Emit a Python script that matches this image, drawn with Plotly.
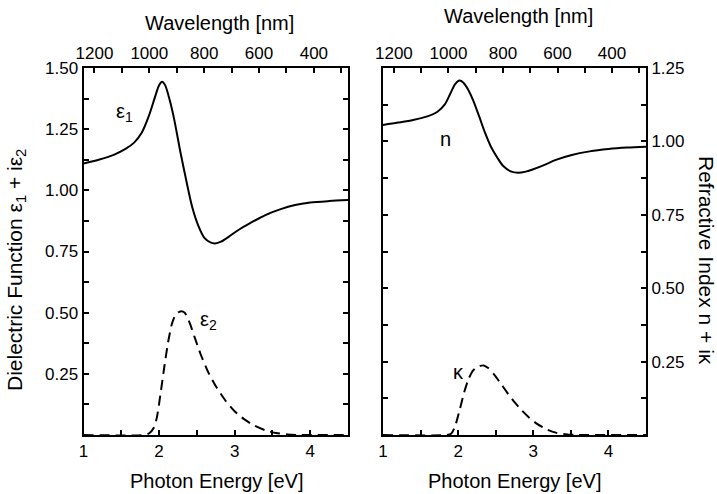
import plotly.graph_objects as go

# ---------------- data ----------------
energy_eps1 = [1.00, 1.20, 1.40, 1.55, 1.67, 1.77, 1.86, 1.95, 2.00, 2.04, 2.08, 2.14, 2.20, 2.28, 2.36,
               2.44, 2.52, 2.60, 2.68, 2.74, 2.82, 2.92, 3.05, 3.20, 3.40, 3.60, 3.80, 4.00, 4.25, 4.50]
eps1 = [1.110, 1.125, 1.145, 1.168, 1.195, 1.235, 1.300, 1.385, 1.430, 1.444, 1.430, 1.370, 1.290, 1.160, 1.040,
        0.930, 0.855, 0.806, 0.787, 0.783, 0.790, 0.810, 0.838, 0.865, 0.898, 0.922, 0.940, 0.950, 0.956, 0.960]

energy_eps2 = [1.00, 1.80, 1.87, 1.93, 1.97, 2.02, 2.07, 2.12, 2.17, 2.22, 2.28, 2.34, 2.40, 2.47,
               2.55, 2.65, 2.76, 2.88, 3.00, 3.12, 3.25, 3.40, 3.55, 3.70, 3.85, 4.50]
eps2 = [0.0, 0.0, 0.007, 0.030, 0.070, 0.170, 0.280, 0.380, 0.455, 0.493, 0.505, 0.500, 0.462, 0.400,
        0.330, 0.257, 0.195, 0.140, 0.097, 0.066, 0.040, 0.020, 0.008, 0.002, 0.0, 0.0]

energy_n = [1.00, 1.20, 1.40, 1.60, 1.72, 1.82, 1.90, 1.96, 2.02, 2.07, 2.13, 2.20, 2.28, 2.36,
            2.44, 2.52, 2.60, 2.70, 2.80, 2.90, 3.00, 3.15, 3.30, 3.50, 3.75, 4.00, 4.25, 4.50]
n_vals = [1.056, 1.064, 1.073, 1.086, 1.100, 1.125, 1.165, 1.195, 1.207, 1.200, 1.178, 1.140, 1.085, 1.028,
          0.980, 0.945, 0.916, 0.898, 0.893, 0.897, 0.905, 0.920, 0.937, 0.953, 0.966, 0.974, 0.979, 0.982]

energy_k = [1.00, 1.85, 1.91, 1.96, 2.02, 2.08, 2.14, 2.20, 2.27, 2.34, 2.40, 2.48, 2.56, 2.65,
            2.75, 2.85, 2.95, 3.05, 3.18, 3.30, 3.45, 3.60, 4.50]
k_vals = [0.0, 0.0, 0.005, 0.030, 0.085, 0.145, 0.192, 0.220, 0.234, 0.237, 0.228, 0.206, 0.178, 0.145,
          0.112, 0.083, 0.058, 0.038, 0.019, 0.008, 0.002, 0.0, 0.0]

energy_ticks = [1, 2, 3, 4]
wavelength_ticks = [1200, 1000, 800, 600, 400]
eps_ticks = [0.25, 0.50, 0.75, 1.00, 1.25, 1.50]
nk_ticks = [0.25, 0.50, 0.75, 1.00, 1.25]

# ---------------- figure ----------------
W, H = 717, 494
FONT = "Liberation Sans, Arial, Helvetica, sans-serif"

def px(x):
    return x / W

def py(y):
    return 1 - y / H

fig = go.Figure()
fig.update_layout(template="none")

line_solid = dict(color="black", width=2)
line_dash = dict(color="black", width=2, dash="10px,6px")

fig.add_trace(go.Scatter(x=energy_eps1, y=eps1, mode="lines", line=dict(**line_solid, shape="spline", smoothing=0.8),
                         xaxis="x", yaxis="y", showlegend=False, hoverinfo="skip"))
fig.add_trace(go.Scatter(x=energy_eps2, y=eps2, mode="lines", line=dict(**line_dash, shape="spline", smoothing=0.6),
                         xaxis="x", yaxis="y", showlegend=False, hoverinfo="skip"))
fig.add_trace(go.Scatter(x=energy_n, y=n_vals, mode="lines", line=dict(**line_solid, shape="spline", smoothing=0.8),
                         xaxis="x3", yaxis="y2", showlegend=False, hoverinfo="skip"))
fig.add_trace(go.Scatter(x=energy_k, y=k_vals, mode="lines", line=dict(**line_dash, shape="spline", smoothing=0.6),
                         xaxis="x3", yaxis="y2", showlegend=False, hoverinfo="skip"))

dom_left = [px(83.5), px(348)]
dom_right = [px(383), px(646)]
dom_y = [py(435), py(68)]

TL, TW = 5, 1.5
tickfont = dict(family=FONT, size=17, color="black")
common = dict(showgrid=False, zeroline=False, showline=True, linecolor="black", linewidth=2,
              ticks="inside", ticklen=TL, tickwidth=TW, tickcolor="black", tickfont=tickfont,
              tickmode="array", automargin=False)
minor_x = dict(dtick=0.5, tick0=0, ticks="inside", ticklen=TL, tickwidth=TW, tickcolor="black", showgrid=False)
minor_y = dict(dtick=0.125, tick0=0, ticks="inside", ticklen=TL, tickwidth=TW, tickcolor="black", showgrid=False)
minor_w = dict(dtick=100, tick0=0, ticks="inside", ticklen=TL, tickwidth=TW, tickcolor="black", showgrid=False)

e_min, e_max = 1.0, 4.5
wl_range = [1240 / e_min, 1240 / e_max]

fig.update_layout(
    width=W, height=H,
    margin=dict(l=0, r=0, t=0, b=0, pad=0),
    paper_bgcolor="white", plot_bgcolor="rgba(0,0,0,0)",
    font=dict(family=FONT, color="black"),
    xaxis=dict(domain=dom_left, anchor="y", range=[e_min, e_max], minor=minor_x,
               tickvals=energy_ticks, ticktext=[str(v) for v in energy_ticks], **common),
    xaxis2=dict(domain=dom_left, anchor="y", overlaying="x", side="top", range=wl_range, minor=minor_w,
                tickvals=wavelength_ticks, ticktext=[str(v) for v in wavelength_ticks], **common),
    xaxis3=dict(domain=dom_right, anchor="y2", range=[e_min, e_max], minor=minor_x,
                tickvals=energy_ticks, ticktext=[str(v) for v in energy_ticks], **common),
    xaxis4=dict(domain=dom_right, anchor="y2", overlaying="x3", side="top", range=wl_range, minor=minor_w,
                tickvals=wavelength_ticks, ticktext=[str(v) for v in wavelength_ticks], **common),
    yaxis=dict(domain=dom_y, anchor="x", range=[0, 1.5], mirror="ticks", minor=minor_y,
               tickvals=eps_ticks, ticktext=[f"{v:.2f}" for v in eps_ticks], **common),
    yaxis2=dict(domain=dom_y, anchor="x3", side="right", range=[0, 1.25], mirror="ticks", minor=minor_y,
                tickvals=nk_ticks, ticktext=[f"{v:.2f}" for v in nk_ticks], **common),
)

# traces without visible marks so that the top wavelength axes are drawn
fig.add_trace(go.Scatter(x=wl_range, y=[0, 0], xaxis="x2", yaxis="y", mode="lines",
                         line=dict(width=0, color="rgba(0,0,0,0)"), showlegend=False, hoverinfo="skip"))
fig.add_trace(go.Scatter(x=wl_range, y=[0, 0], xaxis="x4", yaxis="y2", mode="lines",
                         line=dict(width=0, color="rgba(0,0,0,0)"), showlegend=False, hoverinfo="skip"))

title_font = dict(family=FONT, size=20, color="black")
ytitle_font = dict(family=FONT, size=21, color="black")
label_font = dict(family=FONT, size=20, color="black")

annotations = [
    dict(text="Wavelength [nm]", x=px(219), y=py(23), xref="paper", yref="paper",
         showarrow=False, font=title_font, xanchor="center", yanchor="middle"),
    dict(text="Wavelength [nm]", x=px(518), y=py(16), xref="paper", yref="paper",
         showarrow=False, font=title_font, xanchor="center", yanchor="middle"),
    dict(text="Photon Energy [eV]", x=px(216), y=py(481), xref="paper", yref="paper",
         showarrow=False, font=title_font, xanchor="center", yanchor="middle"),
    dict(text="Photon Energy [eV]", x=px(514.5), y=py(481), xref="paper", yref="paper",
         showarrow=False, font=title_font, xanchor="center", yanchor="middle"),
    dict(text="Dielectric Function ε<sub>1</sub> + iε<sub>2</sub>", x=px(16), y=py(270),
         xref="paper", yref="paper", showarrow=False, font=ytitle_font, textangle=-90,
         xanchor="center", yanchor="middle"),
    dict(text="Refractive Index n + iκ", x=px(707), y=py(260),
         xref="paper", yref="paper", showarrow=False, font=ytitle_font, textangle=90,
         xanchor="center", yanchor="middle"),
    dict(text="ε<sub>1</sub>", x=1.54, y=1.32, xref="x", yref="y", showarrow=False, font=label_font),
    dict(text="ε<sub>2</sub>", x=2.65, y=0.47, xref="x", yref="y", showarrow=False, font=label_font),
    dict(text="n", x=1.83, y=1.008, xref="x3", yref="y2", showarrow=False, font=label_font),
    dict(text="κ", x=2.0, y=0.215, xref="x3", yref="y2", showarrow=False, font=label_font),
]
fig.update_layout(annotations=annotations)

fig.write_html("out.html")
